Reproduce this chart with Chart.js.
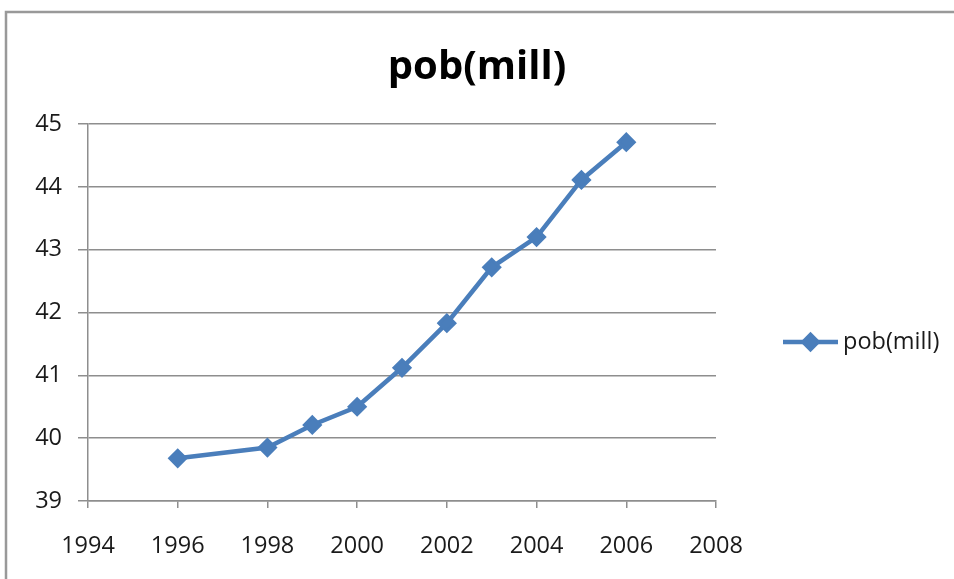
<!DOCTYPE html>
<html>
<head>
<meta charset="utf-8">
<script src="https://cdn.jsdelivr.net/npm/chart.js@4/dist/chart.umd.min.js"></script>
<style>
  html, body { margin: 0; padding: 0; background: #fff; }
  #wrap { position: relative; width: 954px; height: 579px; }
</style>
</head>
<body>
<div id="wrap"><canvas id="chart" width="954" height="579"></canvas></div>
<script>
// data
const years = [1996, 1998, 1999, 2000, 2001, 2002, 2003, 2004, 2005, 2006];
const pobMill = [39.68, 39.85, 40.21, 40.5, 41.12, 41.83, 42.72, 43.2, 44.11, 44.71];
const seriesLabel = 'pob(mill)';
const titleText = 'pob(mill)';
const xMin = 1994, xMax = 2008, xStep = 2;
const yMin = 39, yMax = 45, yStep = 1;

const lineColor = '#4a7ebb';
const gridColor = '#8e8e8e';
const textColor = '#1a1a1a';
const fontFamily = '"Open Sans", "Liberation Sans", Arial, sans-serif';

// outer frame, partly cut off at right and bottom like the source image
const framePlugin = {
  id: 'frame',
  beforeDraw: (chart) => {
    const ctx = chart.ctx;
    ctx.save();
    ctx.fillStyle = '#fff';
    ctx.fillRect(0, 0, chart.width, chart.height);
    ctx.strokeStyle = '#999';
    ctx.lineWidth = 2.5;
    ctx.beginPath();
    ctx.moveTo(6, chart.height + 5);
    ctx.lineTo(6, 12);
    ctx.lineTo(chart.width + 5, 12);
    ctx.stroke();
    ctx.restore();
  }
};

// legend in the right hand gap, Excel style: line with a diamond
const sideLegendPlugin = {
  id: 'sideLegend',
  afterDraw: (chart) => {
    const ctx = chart.ctx;
    const area = chart.chartArea;
    const ds = chart.data.datasets[0];
    const x0 = area.right + 67;
    const x1 = x0 + 55;
    const y = 342;
    ctx.save();
    ctx.strokeStyle = ds.borderColor;
    ctx.lineWidth = 4.5;
    ctx.beginPath();
    ctx.moveTo(x0, y);
    ctx.lineTo(x1, y);
    ctx.stroke();
    Chart.helpers.drawPoint(ctx, {
      pointStyle: 'rectRot', radius: 7, borderWidth: 1
    }, (x0 + x1) / 2, y);
    ctx.fillStyle = ds.backgroundColor;
    ctx.fill();
    ctx.fillStyle = textColor;
    ctx.font = '23.5px ' + fontFamily;
    ctx.textAlign = 'left';
    ctx.textBaseline = 'middle';
    ctx.fillText(ds.label, x1 + 5, y);
    ctx.restore();
  }
};

const points = years.map((yr, i) => ({ x: yr, y: pobMill[i] }));

new Chart(document.getElementById('chart'), {
  type: 'line',
  data: {
    datasets: [{
      label: seriesLabel,
      data: points,
      borderColor: lineColor,
      backgroundColor: lineColor,
      borderWidth: 4.5,
      pointStyle: 'rectRot',
      pointRadius: 8,
      pointBorderWidth: 3,
      pointBackgroundColor: lineColor,
      pointBorderColor: lineColor,
      tension: 0
    }]
  },
  options: {
    responsive: false,
    animation: false,
    layout: { padding: 0 },
    plugins: {
      legend: { display: false },
      tooltip: { enabled: false },
      title: {
        display: true,
        text: titleText,
        color: '#000',
        font: { family: fontFamily, size: 40, weight: 'bold', lineHeight: 1.2 },
        padding: { top: 44, bottom: 32 }
      }
    },
    scales: {
      x: {
        type: 'linear',
        min: xMin,
        max: xMax,
        afterFit: (s) => { s.height = 78; },
        ticks: {
          stepSize: xStep,
          color: textColor,
          padding: 24,
          maxRotation: 0,
          font: { family: fontFamily, size: 23.5 },
          callback: (v) => String(v)
        },
        grid: {
          drawOnChartArea: false,
          drawTicks: true,
          tickLength: 7,
          color: gridColor,
          lineWidth: 1.5
        },
        border: { display: true, color: gridColor, width: 1.5 }
      },
      y: {
        min: yMin,
        max: yMax,
        afterFit: (s) => { s.width = 88; },
        ticks: {
          stepSize: yStep,
          color: textColor,
          padding: 16,
          font: { family: fontFamily, size: 23.5 }
        },
        grid: {
          color: gridColor,
          lineWidth: 1.5,
          tickLength: 10
        },
        border: { display: true, color: gridColor, width: 1.5 }
      },
      // empty right-hand axis that reserves the legend gap
      yRight: {
        type: 'linear',
        position: 'right',
        display: true,
        afterFit: (s) => { s.width = 238; },
        ticks: { display: false },
        grid: { display: false },
        border: { display: false }
      }
    }
  },
  plugins: [framePlugin, sideLegendPlugin]
});
</script>
</body>
</html>
